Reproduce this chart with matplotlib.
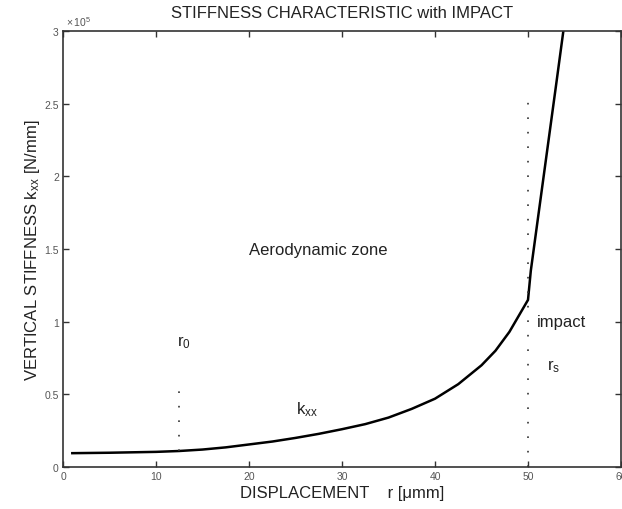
import matplotlib
matplotlib.use("Agg")
import matplotlib.pyplot as plt

# ---- data ----
r_um = [1, 5, 10, 12.5, 15, 17.5, 20, 22.5, 25, 27.5, 30, 32.5, 35, 37.5,
        40, 42.5, 45, 46.5, 48, 49, 50,
        50.3, 51, 52, 53, 53.8]
k_xx = [0.095, 0.098, 0.104, 0.11, 0.12, 0.135, 0.155, 0.175, 0.20, 0.228,
        0.26, 0.295, 0.34, 0.40, 0.47, 0.57, 0.70, 0.80, 0.93, 1.04, 1.15,
        1.35, 1.68, 2.15, 2.62, 3.0]

r0_x = [12.5, 12.5]
r0_y = [0.11, 0.53]
rs_x = [50, 50]
rs_y = [0.0, 2.55]

xticks = [0, 10, 20, 30, 40, 50, 60]
yticks = [0, 0.5, 1, 1.5, 2, 2.5, 3]
yticklabels = ["0", "0.5", "1", "1.5", "2", "2.5", "3"]

plt.rcParams['font.family'] = ['Liberation Sans', 'DejaVu Sans']
plt.rcParams['mathtext.fontset'] = 'custom'
plt.rcParams['mathtext.rm'] = 'Liberation Sans'
plt.rcParams['mathtext.it'] = 'Liberation Sans'

fig = plt.figure(figsize=(6.22, 5.10), dpi=100)
ax = fig.add_axes([0.1013, 0.0824, 0.8971, 0.8546])

ax.plot(r_um, k_xx, color='black', lw=1.8, solid_joinstyle='round')
ax.plot(r0_x, r0_y, color='#333333', lw=1.2, dashes=(1.0, 7.7))
ax.plot(rs_x, rs_y, color='#333333', lw=1.2, dashes=(1.0, 7.7))

ax.set_xlim(0, 60)
ax.set_ylim(0, 3)
ax.set_xticks(xticks)
ax.set_xticklabels([str(t) for t in xticks])
ax.set_yticks(yticks)
ax.set_yticklabels(yticklabels)
ax.tick_params(direction='in', top=True, right=True, length=4, width=1,
               labelsize=7.5, colors='#333333', labelcolor='#555555', pad=3)
for s in ax.spines.values():
    s.set_linewidth(1.2)
    s.set_color('#333333')

fs = 12
ax.set_title("STIFFNESS CHARACTERISTIC with IMPACT", fontsize=fs,
             color='#222222', pad=10)
ax.set_xlabel("DISPLACEMENT    r [μmm]", fontsize=fs, color='#222222',
              labelpad=3)
ax.set_ylabel(r"VERTICAL STIFFNESS k$_{\mathrm{xx}}$ [N/mm]", fontsize=fs,
              color='#222222', labelpad=2)

ax.text(0.3, 3.02, r"$\times\,10^{5}$", fontsize=7.5, color='#555555',
        ha='left', va='bottom')

ax.text(20, 1.5, "Aerodynamic zone", fontsize=fs, color='#222222',
        ha='left', va='center')
ax.text(51.0, 1.0, "impact", fontsize=fs, color='#222222',
        ha='left', va='center')
ax.text(12.3, 0.86, r"r$_0$", fontsize=fs, color='#222222',
        ha='left', va='center')
ax.text(52.0, 0.70, r"r$_s$", fontsize=fs, color='#222222',
        ha='left', va='center')
ax.text(25.0, 0.40, r"k$_{xx}$", fontsize=fs, color='#222222',
        ha='left', va='center')

fig.savefig("out.png", dpi=100)
